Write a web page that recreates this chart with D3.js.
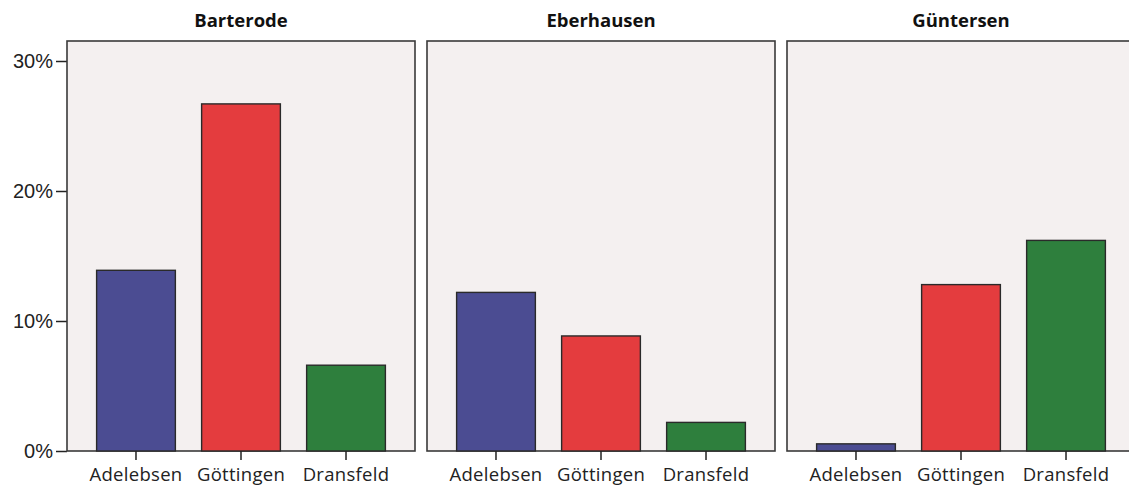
<!DOCTYPE html>
<html>
<head>
<meta charset="utf-8">
<script src="https://cdn.jsdelivr.net/npm/d3@7"></script>
<style>
  body { margin: 0; background: #fff; }
  .title { font-family: "Open Sans", "Noto Sans", sans-serif; font-weight: bold; font-size: 18.5px; fill: #111; }
  .xlab text { font-family: "Open Sans", "Noto Sans", sans-serif; font-size: 18.5px; fill: #222; letter-spacing: 0.3px; }
  .ylab text { font-family: "Liberation Sans", Arial, sans-serif; font-size: 20px; fill: #222; }
</style>
</head>
<body>
<div id="chart"></div>
<script>
// data
const PANELS = ['Barterode', 'Eberhausen', 'Güntersen'];
const TOWNS = ['Adelebsen', 'Göttingen', 'Dransfeld'];
const BARTERODE = [13.9, 26.7, 6.6];
const EBERHAUSEN = [12.2, 8.85, 2.2];
const GUENTERSEN = [0.55, 12.8, 16.2];
const Y_TICKS = [0, 10, 20, 30];

const VALUES = [BARTERODE, EBERHAUSEN, GUENTERSEN];
const COLORS = ['#4b4c92', '#e43c3e', '#2e7f3d'];

const W = 1129, H = 490;
const LEFT = 67, TOP = 41, BOTTOM = 451;
const PANEL_W = 348, PANEL_STEP = 360;

const svg = d3.select('#chart').append('svg').attr('width', W).attr('height', H);

const y = d3.scaleLinear().domain([0, 31.5]).range([BOTTOM, BOTTOM - 31.5 * 13]);

const panelX = d3.scaleBand().domain(PANELS).range([LEFT, LEFT + PANEL_STEP * 3]).paddingInner(0);

//y axis on the left of the first panel
const yAxis = d3.axisLeft(y).tickValues(Y_TICKS).tickFormat(d => d + '%').tickSize(11).tickPadding(3);
svg.append('g')
    .attr('class', 'ylab')
    .attr('transform', 'translate(' + LEFT + ',0)')
    .call(yAxis)
    .call(g => g.select('.domain').remove())
    .call(g => g.selectAll('line').attr('stroke', '#222').attr('stroke-width', 1.5));

PANELS.forEach((name, pi) => {
    const x0 = panelX(name);
    const g = svg.append('g').attr('transform', 'translate(' + x0 + ',0)');

    //panel background and frame
    g.append('rect')
        .attr('x', 0).attr('y', TOP)
        .attr('width', PANEL_W).attr('height', BOTTOM - TOP)
        .attr('fill', '#f4f0f0')
        .attr('stroke', '#3a3a3a')
        .attr('stroke-width', 1.6);

    g.append('text')
        .attr('class', 'title')
        .attr('x', PANEL_W / 2).attr('y', 27)
        .attr('text-anchor', 'middle')
        .text(name);

    const x = d3.scaleBand().domain(TOWNS).range([0, PANEL_W]).paddingInner(0.25).paddingOuter(0.282);

    g.selectAll('rect.bar')
        .data(VALUES[pi])
        .enter()
        .append('rect')
        .attr('class', 'bar')
        .attr('x', (d, i) => x(TOWNS[i]))
        .attr('y', d => y(d))
        .attr('width', x.bandwidth())
        .attr('height', d => y(0) - y(d))
        .attr('fill', (d, i) => COLORS[i])
        .attr('stroke', '#2a2a2a')
        .attr('stroke-width', 1.4);

    const xAxis = d3.axisBottom(x).tickSize(9).tickPadding(8);
    g.append('g')
        .attr('class', 'xlab')
        .attr('transform', 'translate(0,' + BOTTOM + ')')
        .call(xAxis)
        .call(a => a.select('.domain').remove())
        .call(a => a.selectAll('line').attr('stroke', '#222').attr('stroke-width', 1.5));
});
</script>
</body>
</html>
